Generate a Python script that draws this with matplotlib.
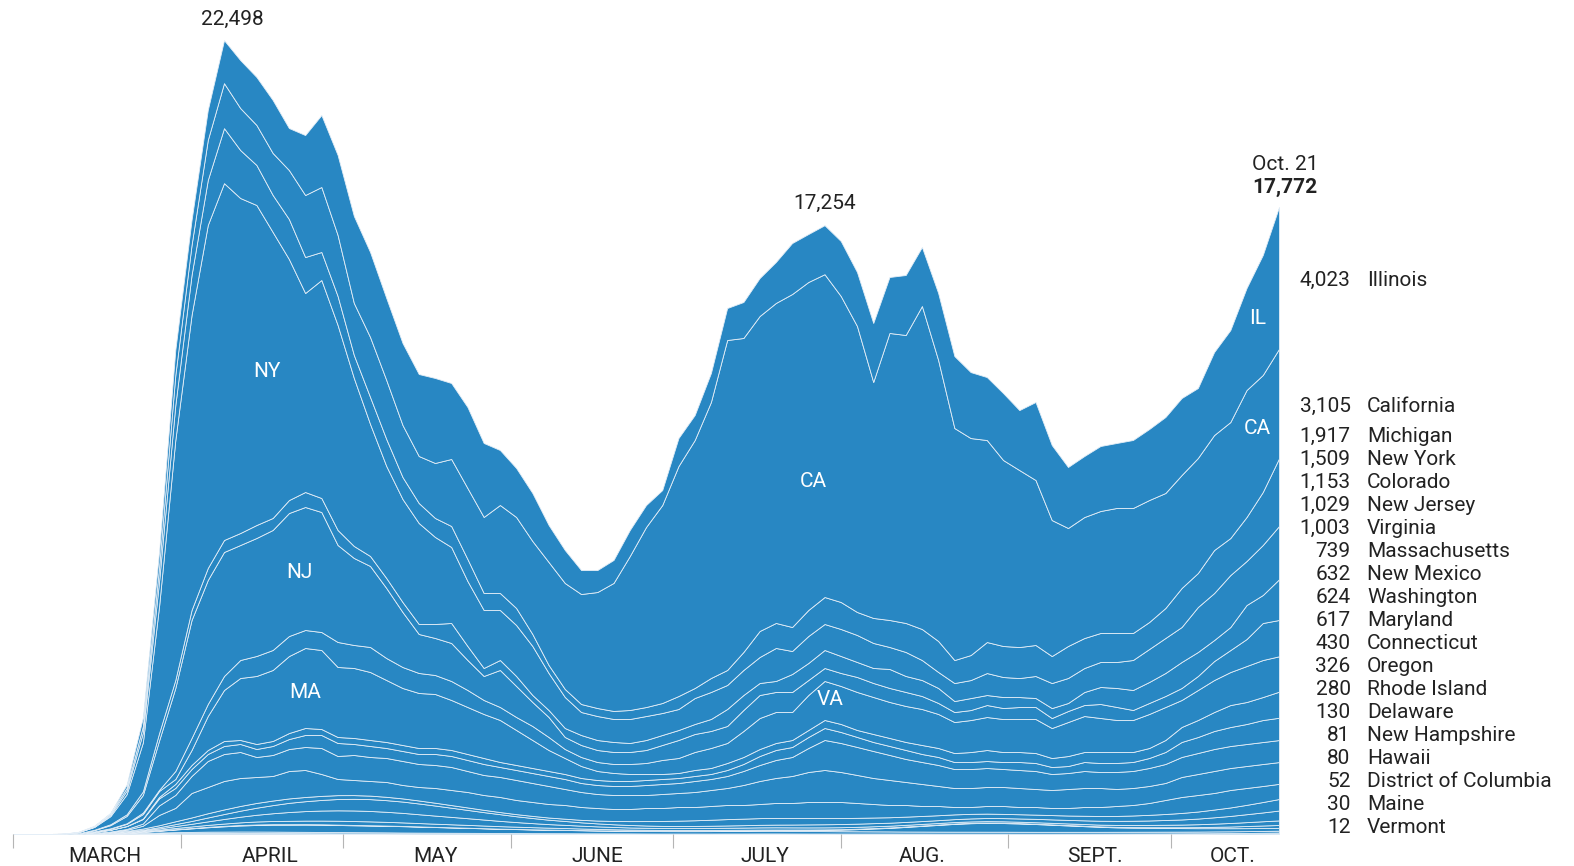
import matplotlib
matplotlib.use("Agg")
import matplotlib.pyplot as plt
import matplotlib.dates as mdates
import pandas as pd

plt.rcParams["font.family"] = ["Roboto", "DejaVu Sans"]

# every third day, Mar 1 .. Oct 21
dates = pd.date_range("2020-03-01", "2020-10-21", freq="3D")

vermont = [0,0,0,0,0,3,6,10,15,20, 24,27,30,30,31,30,28,26,24,22, 20,18,16,14,12,10,9,8,7,6,
           5,5,4,4,4,3,3,3,3,2, 2,2,2,2,3,3,3,3,2,2, 2,2,2,3,3,2,2,2,2,2,
           2,2,2,2,2,3,3,3,3,3, 3,3,4,4,5,6,8,10,12]
maine = [0,0,0,0,0,2,5,10,16,22, 28,32,36,38,40,40,40,38,37,36, 35,34,33,32,30,29,28,27,26,25,
         23,22,20,19,18,17,16,15,14,13, 12,12,12,12,12,12,13,13,13,12, 12,11,11,10,10,10,10,9,9,9,
         9,9,8,8,8,8,8,9,10,11, 12,13,14,16,18,20,22,26,30]
dc = [0,0,0,0,0,3,8,15,30,50, 75,100,125,150,170,185,195,200,205,205, 200,195,190,185,180,170,160,150,140,130,
      120,112,105,98,92,86,80,76,72,70, 68,67,67,68,70,72,73,74,72,70, 68,66,64,62,60,58,57,56,55,55,
      54,54,53,52,52,51,51,50,50,50, 50,50,49,49,50,50,51,51,52]
hawaii = [0,0,0,0,0,0,1,2,4,6, 8,10,12,13,14,15,15,14,13,12, 11,10,9,8,7,6,5,5,5,4,
          4,4,4,4,5,5,5,6,6,6, 8,10,12,14,16,18,20,22,25,30, 35,45,60,80,100,130,160,190,220,240,
          250,245,235,220,200,180,160,140,125,115, 110,105,100,96,92,88,85,82,80]
new_hampshire = [0,0,0,0,0,2,5,10,15,25, 35,45,55,65,75,85,90,95,100,105, 110,110,110,105,100,95,90,85,80,75,
                 70,65,60,55,50,45,40,35,30,28, 25,22,20,18,16,15,15,14,14,13, 13,12,12,12,12,12,11,11,11,10,
                 10,10,10,10,10,11,12,13,14,16, 18,21,25,30,38,48,60,72,81]
delaware = [0,0,0,0,0,2,5,10,20,35, 55,75,100,130,160,190,220,250,270,285, 295,300,295,285,270,250,230,210,190,170,
            150,130,115,100,90,80,72,65,60,57, 55,55,56,58,60,62,64,64,62,60, 58,56,54,52,50,48,46,44,42,40,
            40,40,40,42,44,46,48,50,55,60, 65,70,75,82,90,100,110,120,130]
rhode_island = [0,0,0,0,0,2,5,10,20,35, 55,80,110,140,170,200,230,260,280,300, 320,330,335,330,320,305,285,260,235,210,
                190,165,145,125,110,95,85,75,70,65, 60,60,60,62,65,68,72,76,80,85, 88,90,90,88,85,82,80,80,82,85,
                88,90,92,95,98,100,105,110,115,120, 125,135,145,160,180,200,225,250,280]
oregon = [0,0,0,0,0,5,10,20,35,55, 80,100,120,130,135,135,130,125,120,115, 110,105,100,95,90,85,80,75,70,65,
          60,60,60,62,65,70,80,95,110,125, 140,150,160,170,180,185,190,190,185,180, 175,170,165,160,155,150,145,140,135,130,
          125,120,120,120,122,125,130,135,140,150, 160,170,185,200,220,240,265,295,326]
connecticut = [0,0,0,0,0,5,15,30,80,292, 379,693,744,806,792,735,696,777,765,620, 458,428,414,420,380,382,417,427,437,420,
               427,401,394,383,388,364,355,339,344,371, 367,387,376,390,400,387,400,423,426,455, 456,455,421,383,347,330,283,262,209,194,
               216,224,205,216,201,213,248,255,282,297, 336,397,452,468,469,495,478,454,430]
maryland = [0,0,0,0,0,5,10,25,60,270, 368,482,737,765,737,567,595,623,652,737, 652,709,680,680,680,652,652,652,595,567,
            567,567,538,510,453,425,397,397,397,368, 397,397,425,453,482,567,652,709,765,850, 907,850,794,737,709,652,623,567,538,538,
            538,538,538,510,510,538,538,538,482,482, 482,482,567,595,623,623,623,623,617]
washington = [0,0,0,3,8,25,50,80,130,200, 198,198,198,227,227,227,255,283,340,368, 368,312,312,283,283,283,312,312,312,312,
              283,283,283,283,283,255,255,255,255,283, 283,283,312,312,340,397,453,510,538,680, 850,822,794,765,709,652,623,595,538,538,
              538,510,510,510,453,453,482,453,482,482, 510,538,567,595,623,623,623,623,624]
new_mexico = [0,0,0,0,0,2,3,5,10,40, 113,113,113,142,113,142,142,170,198,170, 170,170,170,170,170,170,170,170,170,170,
              142,142,142,142,142,142,142,142,142,142, 142,142,142,142,170,198,255,283,283,312, 340,312,283,255,255,255,227,227,198,198,
              198,198,227,227,198,198,255,255,255,255, 283,340,425,453,510,538,567,623,632]
massachusetts = [0,0,0,0,0,15,30,60,130,170, 140,425,964,1445,1757,1927,2012,2182,2267,2239, 1984,1984,1927,1757,1615,1559,1530,1417,1332,1247,
                 1190,992,794,595,453,340,255,227,198,170, 142,142,170,170,198,198,198,198,198,198, 227,227,198,227,227,227,255,255,255,283,
                 312,283,283,283,255,283,283,312,312,283, 283,340,425,482,538,623,623,652,739]
virginia = [0,0,0,0,0,3,8,15,40,30, 227,340,340,397,510,567,567,567,510,510, 709,652,709,623,595,567,538,538,482,397,
            368,368,397,368,255,255,255,255,283,312, 397,425,510,567,567,737,879,879,794,992, 1105,1077,1077,1049,1020,1020,1020,964,879,907,
            935,935,935,964,850,964,1020,964,907,907, 964,935,765,850,907,935,1020,1049,1003]
new_jersey = [0,0,0,0,10,35,90,210,500,1400, 2352,3344,3514,3514,3259,3344,3401,3486,3486,3401, 2749,2466,2296,1984,1559,1105,1049,1077,850,680,
              1049,879,680,567,340,340,340,340,340,368, 425,510,510,482,482,595,652,567,567,425, 368,368,425,397,397,397,368,312,283,283,
              340,312,340,340,283,312,312,397,368,283, 312,312,340,397,538,623,765,1049,1029]
colorado = [0,0,0,0,0,10,25,45,100,210, 227,283,340,340,340,368,340,368,425,397, 425,340,283,283,283,283,397,567,397,227,
            283,283,198,198,255,283,283,283,255,283, 283,283,283,340,482,425,340,312,510,482, 510,482,425,425,538,453,453,425,312,340,
            283,312,283,255,283,227,368,482,538,567, 595,652,737,680,595,652,964,794,1153]
new_york = [0,0,0,2,30,80,230,570,1390,3600, 6802,8360,9721,10113,9494,9069,8105,6830,5640,6178, 5810,4761,3741,3174,2919,2862,2466,2154,1842,1644,
            1417,1445,1389,1049,879,652,680,652,680,680, 623,595,737,765,680,709,737,935,652,765, 737,765,765,709,623,680,567,453,510,510,
            623,567,538,623,709,709,680,709,737,850, 935,992,992,1275,1332,1474,1247,1417,1509]
michigan = [0,0,0,0,0,10,35,100,280,700, 992,1134,1275,1559,1360,1134,1049,1134,1020,794, 822,652,765,765,623,567,538,595,623,482,
            482,482,340,227,227,227,227,227,255,255, 283,368,283,397,425,510,737,709,680,737, 765,765,652,709,765,822,879,879,652,709,
            879,879,879,879,765,907,850,822,822,765, 765,850,1105,964,1219,1049,1247,1502,1917]
california = [0,0,0,0,5,15,35,80,180,400, 850,850,1134,1275,1190,1134,1190,1389,1757,1842, 1729,1474,1700,1672,1474,1332,1559,1899,2012,2154,
              2494,2579,2636,2919,3004,3117,3287,3628,4364,5101, 5611,6518,7028,7822,9352,8899,8927,9069,9437,9296, 9149,8672,8105,6688,8134,8162,9154,7964,6575,6150,
              5725,5271,5016,4676,3854,3344,3429,3457,3543,3543, 3457,3259,3202,3259,3259,3287,3599,3316,3105]
illinois = [0,0,0,0,3,6,24,93,245,440, 709,709,850,1219,1360,1360,1502,1190,1700,2040, 2267,2466,2409,2324,2324,2324,2409,2154,2296,2097,
            1559,1389,1360,1049,935,680,623,652,737,623, 425,794,709,822,907,1020,1077,1162,1445,1360, 1389,1559,1530,1672,1587,1700,1672,1899,2040,1870,
            1785,1899,1700,2211,2126,1729,1729,1842,1842,1927, 2012,2154,2182,1984,2352,2607,2891,3401,4023]

# bottom of the stack first
state_names = ["Vermont", "Maine", "District of Columbia", "Hawaii", "New Hampshire", "Delaware",
               "Rhode Island", "Oregon", "Connecticut", "Maryland", "Washington", "New Mexico",
               "Massachusetts", "Virginia", "New Jersey", "Colorado", "New York", "Michigan",
               "California", "Illinois"]
series = [vermont, maine, dc, hawaii, new_hampshire, delaware, rhode_island, oregon, connecticut,
          maryland, washington, new_mexico, massachusetts, virginia, new_jersey, colorado,
          new_york, michigan, california, illinois]

# labels drawn inside the bands
band_labels = [("NY", "2020-04-17", 13100), ("NJ", "2020-04-23", 7400), ("MA", "2020-04-24", 4000),
               ("CA", "2020-07-27", 10000), ("VA", "2020-07-30", 3800),
               ("IL", "2020-10-17", 14600), ("CA", "2020-10-17", 11500)]

month_names = ["MARCH", "APRIL", "MAY", "JUNE", "JULY", "AUG.", "SEPT.", "OCT."]
month_mids = ["2020-03-18 00:00", "2020-04-17 12:00", "2020-05-18 00:00", "2020-06-17 00:00",
              "2020-07-18 00:00", "2020-08-16 00:00", "2020-09-17 00:00", "2020-10-12 12:00"]

BLUE = "#2887c3"
TEXT = "#222222"
FS = 15

fig = plt.figure(figsize=(15.74, 8.66), dpi=100)
ax = fig.add_axes([13 / 1574, 32 / 866, 1266 / 1574, 834 / 866])

x = mdates.date2num(dates)
ax.stackplot(x, *series, colors=[BLUE] * len(series), edgecolor="#e4eef7", linewidth=0.6)
ax.set_xlim(x[0], x[-1])
ax.set_ylim(0, 23636)

for s in ax.spines.values():
    s.set_visible(False)
ax.set_yticks([])

month_starts = mdates.date2num(pd.date_range("2020-03-01", "2020-10-01", freq="MS"))
ax.set_xticks(month_starts)
ax.set_xticklabels([""] * len(month_starts))
ax.tick_params(axis="x", which="major", length=10, width=0.8, color="#b5b5b5", direction="out")
ax.set_xticks(mdates.date2num(pd.to_datetime(month_mids, format="%Y-%m-%d %H:%M")), minor=True)
ax.set_xticklabels(month_names, minor=True, fontsize=FS, color=TEXT)
ax.tick_params(axis="x", which="minor", length=0, pad=9)

# totals and callouts
total = [sum(v) for v in zip(*series)]
peak = total.index(max(total))
ax.annotate(f"{total[peak]:,}", xy=(x[peak], total[peak]), xytext=(6, 8), textcoords="offset points",
            ha="center", va="bottom", fontsize=FS, color=TEXT)
summer = [i for i, d in enumerate(dates) if d.month in (6, 7, 8)]
speak = max(summer, key=lambda i: total[i])
ax.annotate(f"{total[speak]:,}", xy=(x[speak], total[speak]), xytext=(0, 9), textcoords="offset points",
            ha="center", va="bottom", fontsize=FS, color=TEXT)
ax.annotate(f"{total[-1]:,}", xy=(x[-1], total[-1]), xytext=(4.5, 7), textcoords="offset points",
            ha="center", va="bottom", fontsize=FS, color=TEXT, fontweight="bold", annotation_clip=False)
ax.annotate("Oct. 21", xy=(x[-1], total[-1]), xytext=(4.5, 23.5), textcoords="offset points",
            ha="center", va="bottom", fontsize=FS, color=TEXT, annotation_clip=False)

for txt, d, v in band_labels:
    ax.text(mdates.date2num(pd.Timestamp(d)), v, txt, color="white", ha="center", va="center", fontsize=FS)

# right-hand list, pushed apart from the bottom up
gap = 652
prev = 255 - gap
base = 0
for name, vals in zip(state_names, series):
    last = vals[-1]
    mid = base + last / 2
    pos = max(mid, prev + gap)
    prev = pos
    base += last
    ax.annotate(f"{last:,}", xy=(x[-1], pos), xytext=(51.5, -2), textcoords="offset points",
                ha="right", va="center", fontsize=FS, color=TEXT, annotation_clip=False)
    ax.annotate(name, xy=(x[-1], pos), xytext=(63.5, -2), textcoords="offset points",
                ha="left", va="center", fontsize=FS, color=TEXT, annotation_clip=False)

fig.savefig("out.png", dpi=100, facecolor="white")
